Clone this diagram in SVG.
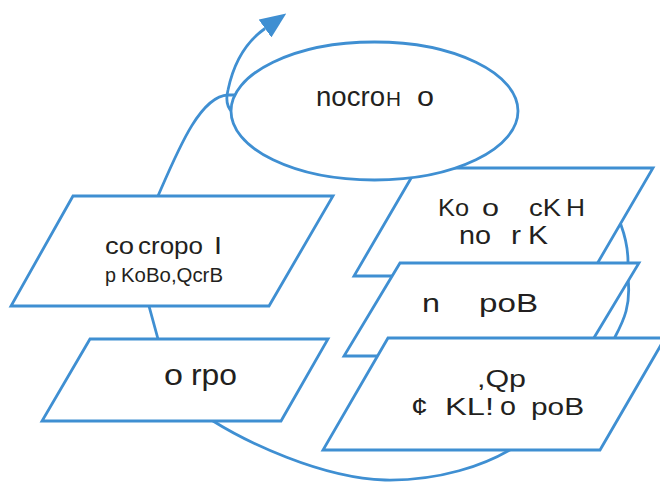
<svg xmlns="http://www.w3.org/2000/svg" width="660" height="483" viewBox="0 0 660 483">
  <style>
    .shape { fill: #ffffff; stroke: #3f8fd2; stroke-width: 2.8; stroke-linejoin: miter; }
    .link { fill: none; stroke: #3f8fd2; stroke-width: 2.8; stroke-linecap: butt; }
    .t { font-family: "Liberation Sans", Arial, sans-serif; fill: #231f20; }
  </style>
  <defs>
    <marker id="head" viewBox="0 0 26 22" refX="0" refY="11" markerWidth="26" markerHeight="22" markerUnits="userSpaceOnUse" orient="auto">
      <path d="M0,0 L26,11 L0,22 Z" fill="#3f8fd2"/>
    </marker>
  </defs>

  <!-- connectors: the cycle loop (partly hidden behind the blocks) and the exit arrow -->
  <g id="connectors">
    <path class="link" d="M 240,95 L 228,95 C 200,96 178,150 158,196 L 146,260 L 149,306 L 158,339 L 213,421
      C 245,441 320,478 385,480 C 440,481 485,465 513,448 L 590,400 L 615,337
      C 624,320 631,305 628,278 L 628,262 C 628,250 625,236 621,225
      L 560,190 L 440,172 L 400,140 L 300,110 Z"/>
    <path class="link" d="M 232,112 C 226,106 226,98 228,90 C 233,66 243,44 265,28.5" marker-end="url(#head)"/>
  </g>

  <g id="left-top">
    <polygon class="shape" points="73,196 333,196 269,306 11,306"/>
    <text class="t" x="105" y="254" font-size="23" textLength="29" lengthAdjust="spacingAndGlyphs">co</text>
    <text class="t" x="138" y="254" font-size="23" textLength="65" lengthAdjust="spacingAndGlyphs">cropo</text>
    <text class="t" x="214" y="254" font-size="23" textLength="8" lengthAdjust="spacingAndGlyphs">I</text>
    <text class="t" x="105" y="282" font-size="20" textLength="11" lengthAdjust="spacingAndGlyphs">p</text>
    <text class="t" x="121" y="282" font-size="20" textLength="102" lengthAdjust="spacingAndGlyphs">KoBo,QcrB</text>
  </g>

  <g id="left-bottom">
    <polygon class="shape" points="90,339 328,339 281,421 42,421"/>
    <text class="t" x="164" y="385" font-size="29" textLength="19" lengthAdjust="spacingAndGlyphs">o</text>
    <text class="t" x="191" y="385" font-size="29" textLength="46" lengthAdjust="spacingAndGlyphs">rpo</text>
  </g>

  <g id="right-1">
    <polygon class="shape" points="417,168 653,168 590,276 354,276"/>
    <text class="t" x="438" y="216" font-size="24" textLength="31" lengthAdjust="spacingAndGlyphs">Ko</text>
    <text class="t" x="482" y="216" font-size="24" textLength="17" lengthAdjust="spacingAndGlyphs">o</text>
    <text class="t" x="529" y="216" font-size="24" textLength="32" lengthAdjust="spacingAndGlyphs">cK</text>
    <text class="t" x="566" y="216" font-size="24" textLength="19" lengthAdjust="spacingAndGlyphs">H</text>
    <text class="t" x="459" y="244" font-size="25" textLength="32" lengthAdjust="spacingAndGlyphs">no</text>
    <text class="t" x="511" y="244" font-size="25" textLength="10" lengthAdjust="spacingAndGlyphs">r</text>
    <text class="t" x="528" y="244" font-size="25" textLength="20" lengthAdjust="spacingAndGlyphs">K</text>
  </g>

  <g id="right-2">
    <polygon class="shape" points="400,263 639,263 583,356 344,356"/>
    <text class="t" x="422" y="312" font-size="26" textLength="18" lengthAdjust="spacingAndGlyphs">n</text>
    <text class="t" x="479" y="312" font-size="26" textLength="59" lengthAdjust="spacingAndGlyphs">poB</text>
  </g>

  <g id="right-3">
    <polygon class="shape" points="388,338 665,338 600,450 323,450"/>
    <text class="t" x="477" y="387" font-size="24" textLength="49" lengthAdjust="spacingAndGlyphs">,Qp</text>
    <text class="t" x="411" y="415" font-size="24" textLength="17" lengthAdjust="spacingAndGlyphs">¢</text>
    <text class="t" x="445" y="415" font-size="24" textLength="49" lengthAdjust="spacingAndGlyphs">KL!</text>
    <text class="t" x="500" y="415" font-size="26" textLength="16" lengthAdjust="spacingAndGlyphs">o</text>
    <text class="t" x="531" y="415" font-size="24" textLength="53" lengthAdjust="spacingAndGlyphs">poB</text>
  </g>

  <g id="start">
    <ellipse class="shape" cx="374.5" cy="111" rx="143.5" ry="69"/>
    <text class="t" x="316" y="106" font-size="27" textLength="69" lengthAdjust="spacingAndGlyphs">nocro</text>
    <text class="t" x="386" y="106" font-size="19.5" textLength="15" lengthAdjust="spacingAndGlyphs">H</text>
    <text class="t" x="417" y="106" font-size="27" textLength="17" lengthAdjust="spacingAndGlyphs">o</text>
  </g>
</svg>
